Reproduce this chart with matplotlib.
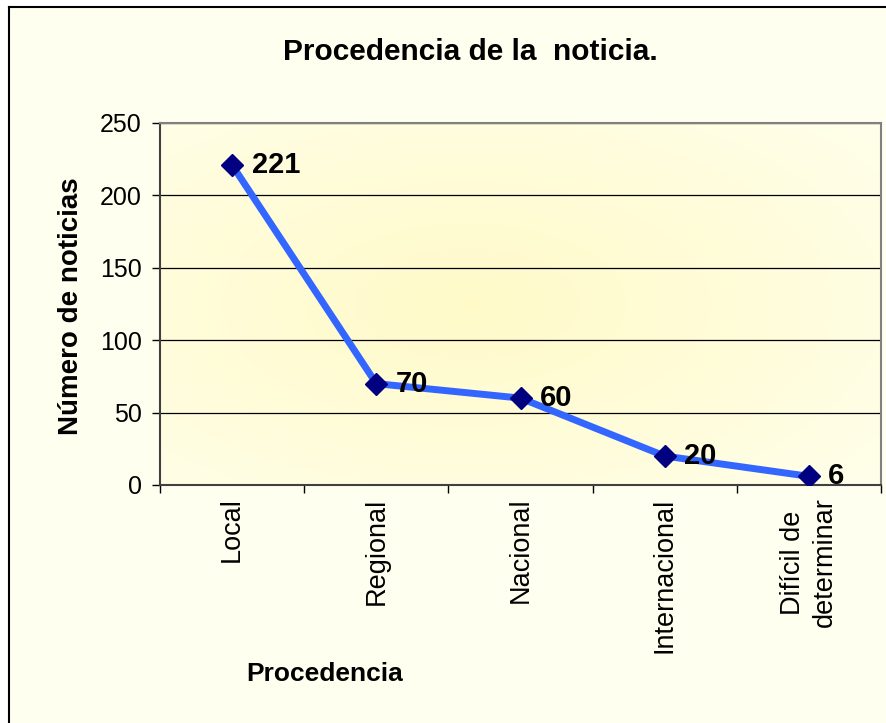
import numpy as np
import matplotlib.pyplot as plt
from matplotlib.lines import Line2D

# data
categorias = ["Local", "Regional", "Nacional", "Internacional", "Difícil de\ndeterminar"]
noticias = [221, 70, 60, 20, 6]
y_ticks = [0, 50, 100, 150, 200, 250]

plt.rcParams['font.family'] = ['Liberation Sans', 'DejaVu Sans']

fig = plt.figure(figsize=(8.86, 7.23), dpi=100)
fig.patch.set_facecolor('#fffff0')

ax = fig.add_axes([160/886, 1-485/723, 721/886, 362/723])

# radial gradient in the plot area
ny, nx = 200, 300
gx, gy = np.meshgrid(np.linspace(-1, 1, nx), np.linspace(-1, 1, ny))
gx = gx + 0.15
r = np.clip(np.sqrt(gx**2 + gy**2) / 1.7, 0, 1)
c_mid = np.array([255, 250, 200]) / 255
c_edge = np.array([255, 255, 238]) / 255
img = c_mid[None, None, :] * (1 - r[..., None]) + c_edge[None, None, :] * r[..., None]
ax.imshow(img, extent=(-0.5, 4.5, 0, 250), aspect='auto', zorder=0, interpolation='bilinear')

x = np.arange(len(categorias))
ax.plot(x, noticias, color='#3366ff', lw=5, zorder=3)
ax.plot(x, noticias, ls='none', marker='D', ms=11.5, color='#000080', zorder=4)
for xi, v in zip(x, noticias):
    ax.annotate(str(v), (xi, v), xytext=(14, 0), textcoords='offset points',
                ha='left', va='center', fontsize=21, fontweight='bold', zorder=5)

ax.set_xlim(-0.5, 4.5)
ax.set_ylim(0, 250)
ax.set_yticks(y_ticks)
ax.tick_params(axis='y', labelsize=18, length=6, width=1, direction='out', pad=7)
ax.grid(True, axis='y', color='black', lw=0.9, zorder=1)

ax.set_xticks(np.arange(-0.5, 5, 1))
ax.set_xticklabels([])
ax.tick_params(axis='x', which='major', length=6, width=1, direction='out')
ax.set_xticks(x, minor=True)
ax.set_xticklabels(categorias, minor=True, rotation=90, fontsize=19.5, va='top', ha='center',
                   multialignment='center', linespacing=1.3)
ax.tick_params(axis='x', which='minor', length=0, pad=9)

for s in ['top', 'right']:
    ax.spines[s].set_color('#808080')
    ax.spines[s].set_linewidth(1.5)
for s in ['left', 'bottom']:
    ax.spines[s].set_color('#404040')
    ax.spines[s].set_linewidth(1.5)

fig.text(470/886, 1-52/723, "Procedencia de la  noticia.", ha='center', va='center',
         fontsize=21.5, fontweight='bold')
fig.text(71/886, 1-306/723, "Número de noticias", ha='center', va='center', rotation=90,
         fontsize=20, fontweight='bold')
fig.text(325/886, 1-674/723, "Procedencia", ha='center', va='center',
         fontsize=19, fontweight='bold')

# outer chart border
fig.add_artist(Line2D([9/886, 9/886], [0, 1-7/723], color='black', lw=1.5,
                      transform=fig.transFigure))
fig.add_artist(Line2D([9/886, 1], [1-7/723, 1-7/723], color='black', lw=1.5,
                      transform=fig.transFigure))
fig.add_artist(plt.Rectangle((0, 1-7/723), 1, 7/723, color='white', transform=fig.transFigure, zorder=-1))
fig.add_artist(plt.Rectangle((0, 0), 9/886, 1, color='white', transform=fig.transFigure, zorder=-1))

fig.savefig('out.png', dpi=100, facecolor=fig.get_facecolor())
